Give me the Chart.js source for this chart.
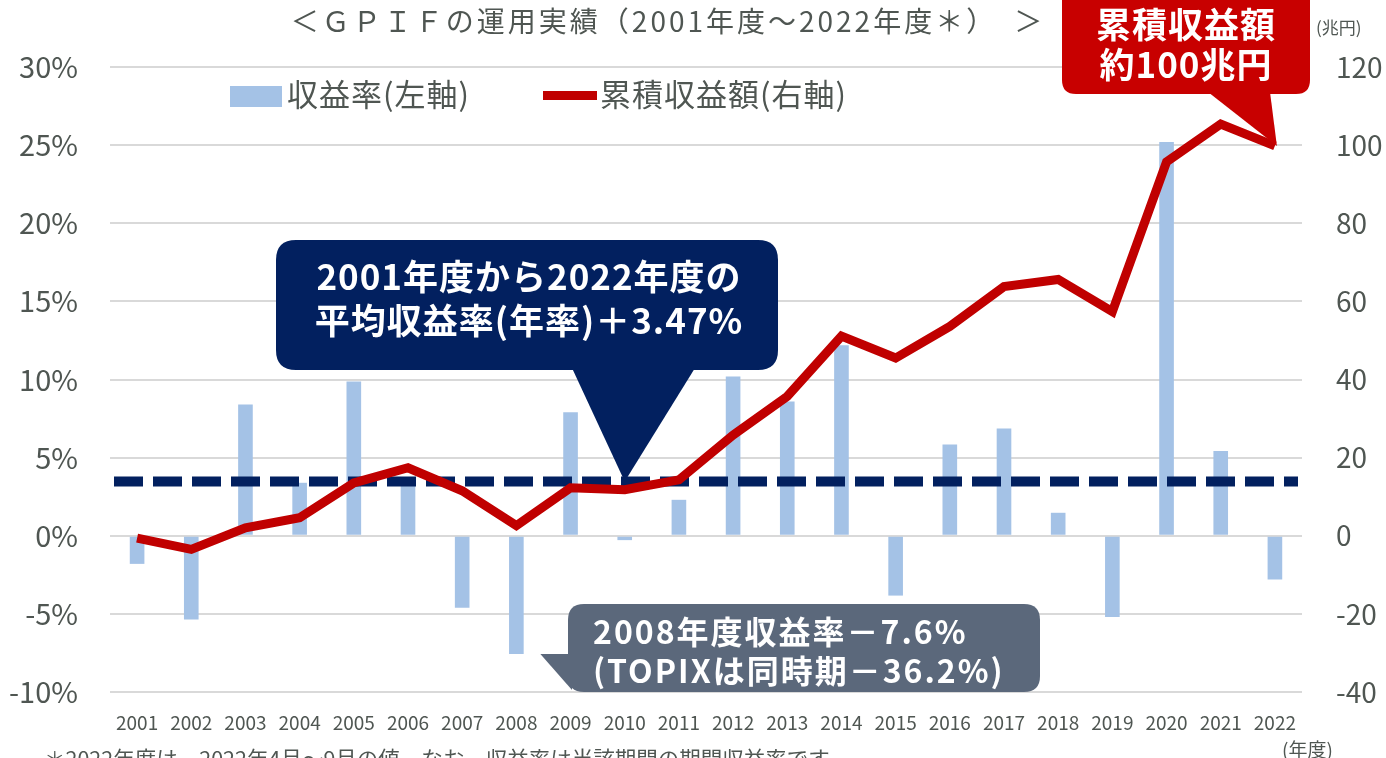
<!DOCTYPE html>
<html lang="ja">
<head>
<meta charset="utf-8">
<script src="https://cdn.jsdelivr.net/npm/chart.js@4.4.1/dist/chart.umd.min.js"></script>
<style>
  html, body { margin: 0; padding: 0; background: #fff; overflow: hidden; }
  #wrap { width: 1386px; height: 758px; position: relative; }
</style>
</head>
<body>
<div id="wrap"><canvas id="gpifChart" width="1386" height="758"></canvas></div>
<script>
// data
const years = ['2001','2002','2003','2004','2005','2006','2007','2008','2009','2010','2011',
               '2012','2013','2014','2015','2016','2017','2018','2019','2020','2021','2022'];
// 収益率 (%)
const returnRate = [-1.8, -5.36, 8.4, 3.39, 9.88, 3.7, -4.6, -7.57, 7.9, -0.28, 2.3,
                    10.2, 8.6, 12.2, -3.83, 5.84, 6.86, 1.47, -5.2, 25.2, 5.42, -2.8];
// 累積収益額 (兆円)
const cumulative = [-0.6, -3.5, 2.0, 4.6, 13.5, 17.4, 11.5, 2.6, 12.3, 11.8, 14.3,
                    25.8, 35.7, 51.1, 45.5, 53.6, 63.8, 65.6, 57.4, 95.7, 105.4, 99.8];
const avgRate = 3.47;
const leftRange = [-10, 30, 5];
const rightRange = [-40, 120, 20];

const titleText = '＜ＧＰＩＦの運用実績（2001年度～2022年度＊）　＞';
const avgNote = ['2001年度から2022年度の', '平均収益率(年率)＋3.47%'];
const totalNote = ['累積収益額', '約100兆円'];
const crashNote = ['2008年度収益率－7.6%', '(TOPIXは同時期－36.2%)'];
const footNote = '＊2022年度は、2022年4月～9月の値。なお、収益率は当該期間の期間収益率です。';

const JP = '"Noto Sans CJK JP", "Noto Sans", sans-serif';
const textGrey = '#4F5652';

function roundRect(ctx, x, y, w, h, r) {
  ctx.beginPath();
  ctx.moveTo(x + r, y);
  ctx.lineTo(x + w - r, y);
  ctx.quadraticCurveTo(x + w, y, x + w, y + r);
  ctx.lineTo(x + w, y + h - r);
  ctx.quadraticCurveTo(x + w, y + h, x + w - r, y + h);
  ctx.lineTo(x + r, y + h);
  ctx.quadraticCurveTo(x, y + h, x, y + h - r);
  ctx.lineTo(x, y + r);
  ctx.quadraticCurveTo(x, y, x + r, y);
  ctx.closePath();
}

// dashed average line, drawn right after the bars
const avgLinePlugin = {
  id: 'avgLine',
  afterDatasetDraw(chart, args) {
    if (args.index !== 0) return;
    const { ctx, chartArea, scales } = chart;
    const y = scales.y.getPixelForValue(avgRate);
    ctx.save();
    ctx.strokeStyle = '#02205F';
    ctx.lineWidth = 10;
    ctx.setLineDash([29, 10]);
    ctx.beginPath();
    ctx.moveTo(chartArea.left + 4, y);
    ctx.lineTo(chartArea.right - 4, y);
    ctx.stroke();
    ctx.restore();
  }
};

// title, legend, callouts, notes
const decorPlugin = {
  id: 'decor',
  afterDraw(chart) {
    const { ctx, scales } = chart;
    const xs = scales.x, yl = scales.y, yr = scales.y2;
    ctx.save();

    // title
    ctx.fillStyle = textGrey;
    ctx.font = '28px ' + JP;
    ctx.textBaseline = 'middle';
    ctx.textAlign = 'center';
    ctx.letterSpacing = '3px';
    ctx.fillText(titleText, 668, 21);

    // legend
    ctx.textAlign = 'left';
    ctx.letterSpacing = '1px';
    ctx.font = '31px ' + JP;
    ctx.fillStyle = '#A4C2E6';
    ctx.fillRect(230, 86, 52, 21);
    ctx.fillStyle = textGrey;
    ctx.fillText(chart.data.datasets[0].label, 287, 94);
    ctx.fillStyle = '#C00000';
    ctx.fillRect(543, 91, 54, 9);
    ctx.fillStyle = textGrey;
    ctx.fillText(chart.data.datasets[1].label, 600, 94);
    ctx.letterSpacing = '0px';

    // unit labels
    ctx.font = '17px ' + JP;
    ctx.fillText('(兆円)', 1316, 28);
    ctx.font = '19px ' + JP;
    ctx.fillText('(年度)', 1282, 750);

    // footnote (cut by the bottom edge)
    ctx.font = '21.5px ' + JP;
    ctx.fillText(footNote, 44, 759);

    // navy callout: average return
    const tipX = xs.getPixelForValue(9);
    const tipY = yl.getPixelForValue(avgRate);
    ctx.fillStyle = '#02205F';
    roundRect(ctx, 276, 240, 502, 130, 20);
    ctx.fill();
    ctx.beginPath();
    ctx.moveTo(572, 368);
    ctx.lineTo(695, 368);
    ctx.lineTo(tipX, tipY);
    ctx.closePath();
    ctx.fill();
    ctx.fillStyle = '#fff';
    ctx.font = 'bold 35px ' + JP;
    ctx.textAlign = 'center';
    ctx.letterSpacing = '1px';
    ctx.fillText(avgNote[0], 529, 277);
    ctx.fillText(avgNote[1], 529, 321);

    // red callout: cumulative total
    const lastI = years.length - 1;
    const rx = xs.getPixelForValue(lastI);
    const ry = yr.getPixelForValue(cumulative[lastI]);
    ctx.fillStyle = '#C80000';
    roundRect(ctx, 1062, -14, 248, 108, 14);
    ctx.fill();
    ctx.beginPath();
    ctx.moveTo(1208, 92);
    ctx.lineTo(1270, 92);
    ctx.lineTo(rx + 2, ry);
    ctx.closePath();
    ctx.fill();
    ctx.fillStyle = '#fff';
    ctx.font = 'bold 35px ' + JP;
    ctx.fillText(totalNote[0], 1186, 25);
    ctx.fillText(totalNote[1], 1186, 65);

    // grey callout: 2008
    const gx = xs.getPixelForValue(7) + 24;
    const gy = yl.getPixelForValue(returnRate[7]);
    ctx.fillStyle = '#5B687B';
    roundRect(ctx, 568, 604, 472, 88, 16);
    ctx.fill();
    ctx.beginPath();
    ctx.moveTo(gx, gy);
    ctx.lineTo(572, gy);
    ctx.lineTo(572, 690);
    ctx.closePath();
    ctx.fill();
    ctx.fillStyle = '#fff';
    ctx.font = 'bold 32px ' + JP;
    ctx.textAlign = 'left';
    ctx.letterSpacing = '2px';
    ctx.fillText(crashNote[0], 593, 632);
    ctx.fillText(crashNote[1], 593, 671);

    ctx.restore();
  }
};

const ctx = document.getElementById('gpifChart').getContext('2d');
new Chart(ctx, {
  data: {
    labels: years,
    datasets: [
      {
        type: 'bar',
        label: '収益率(左軸)',
        data: returnRate,
        yAxisID: 'y',
        backgroundColor: '#A4C2E6',
        barPercentage: 0.27,
        categoryPercentage: 1,
        order: 1
      },
      {
        type: 'line',
        label: '累積収益額(右軸)',
        data: cumulative,
        yAxisID: 'y2',
        borderColor: '#C00000',
        borderWidth: 9,
        borderJoinStyle: 'miter',
        pointRadius: 0,
        tension: 0,
        fill: false,
        order: 0
      }
    ]
  },
  options: {
    responsive: false,
    animation: false,
    layout: { padding: { top: 67, bottom: 0, left: 0, right: 0 } },
    plugins: {
      legend: { display: false },
      tooltip: { enabled: false }
    },
    scales: {
      x: {
        grid: { display: false },
        border: { display: false },
        ticks: { color: textGrey, font: { family: JP, size: 19 }, padding: 11, maxRotation: 0, autoSkip: false },
        afterFit(axis) { axis.height = 66; }
      },
      y: {
        position: 'left',
        min: leftRange[0], max: leftRange[1],
        grid: { color: '#D9D9D9', lineWidth: 2, drawTicks: false },
        border: { display: false },
        ticks: { stepSize: leftRange[2], color: textGrey, font: { family: JP, size: 29 }, padding: 32,
                 callback: v => v + '%' },
        afterFit(axis) { axis.width = 110; }
      },
      y2: {
        position: 'right',
        min: rightRange[0], max: rightRange[1],
        grid: { display: false, drawTicks: false },
        border: { display: false },
        ticks: { stepSize: rightRange[2], color: textGrey, font: { family: JP, size: 28 }, padding: 34 },
        afterFit(axis) { axis.width = 84; }
      }
    }
  },
  plugins: [avgLinePlugin, decorPlugin]
});
</script>
</body>
</html>
